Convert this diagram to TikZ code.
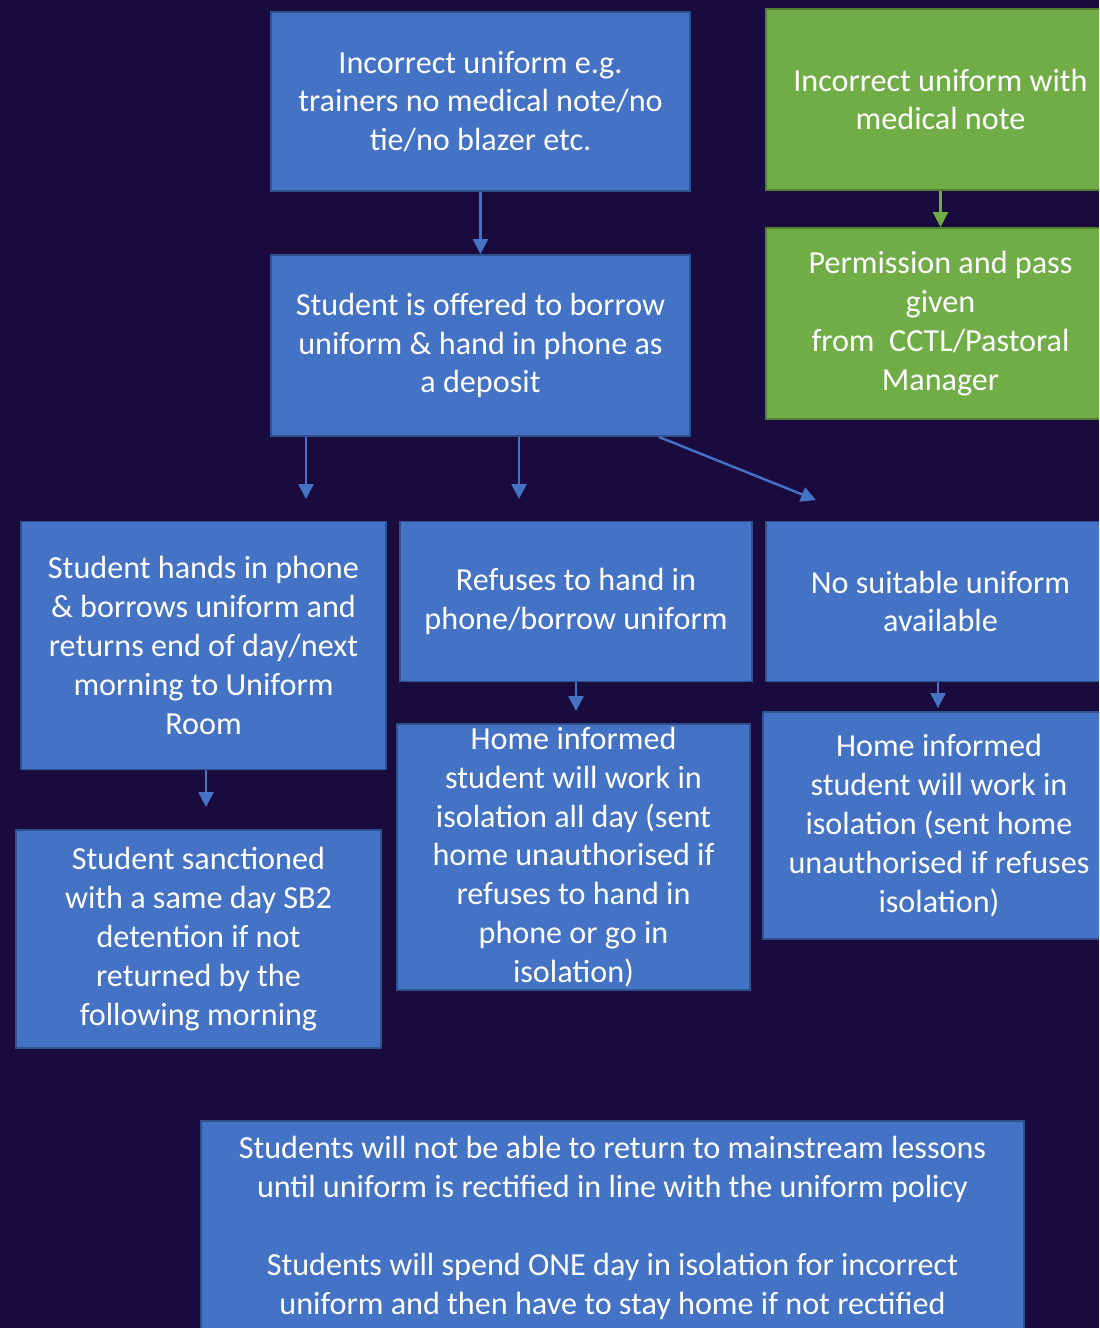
\documentclass[tikz,border=0pt]{standalone}
\usepackage{fontspec}
\setmainfont{Carlito}
\usetikzlibrary{arrows.meta}
\definecolor{bgpurple}{HTML}{1A0B3F}
\definecolor{boxblue}{HTML}{4472C4}
\definecolor{edgeblue}{HTML}{2F528F}
\definecolor{boxgreen}{HTML}{70AD47}
\definecolor{edgegreen}{HTML}{507E32}
\tikzset{
    box/.style={draw=edgeblue, fill=boxblue, line width=1.1pt, text=white, align=center,
        inner sep=0pt, font=\fontsize{18.3}{22.1}\selectfont},
    gbox/.style={box, draw=edgegreen, fill=boxgreen},
    arr/.style={line width=1.4pt, draw=boxblue, -{Triangle[length=8.5pt,width=8.5pt]}},
    garr/.style={arr, draw=boxgreen}
}

\begin{document}
\begin{tikzpicture}[x=0.02cm, y=-0.02cm]
        % 背景
        \useasboundingbox (0,0) rectangle (1099,1328);
        \clip (0,0) rectangle (1099,1328);
        \fill[bgpurple] (0,0) rectangle (1099,1328);

        % 第一层
        \node[box, minimum width=8.38cm, minimum height=3.58cm] (wrong) at (480.5,101.5)
            {Incorrect uniform e.g.\\trainers no medical note/no\\tie/no blazer etc.};
        \node[gbox, minimum width=6.98cm, minimum height=3.62cm] (medical) at (940.5,99.5)
            {Incorrect uniform with\\medical note};
        \node[gbox, minimum width=6.98cm, minimum height=3.82cm] (pass) at (940.5,323.5)
            {Permission and pass\\given\\from\ \ CCTL/Pastoral\\Manager};
        \node[box, minimum width=8.38cm, minimum height=3.62cm] (offer) at (480.5,345.5)
            {Student is offered to borrow\\uniform \& hand in phone as\\a deposit};

        % 第二层
        \node[box, minimum width=7.30cm, minimum height=4.96cm] (borrow) at (203.5,645.5)
            {Student hands in phone\\\& borrows uniform and\\returns end of day/next\\morning to Uniform\\Room};
        \node[box, minimum width=7.04cm, minimum height=3.20cm] (refuse) at (576,601.5)
            {Refuses to hand in\\phone/borrow uniform};
        \node[box, minimum width=6.98cm, minimum height=3.20cm] (none) at (940.5,601.5)
            {No suitable uniform\\available};

        % 第三层
        \node[box, minimum width=7.30cm, minimum height=4.36cm] (sanction) at (198.5,939)
            {Student sanctioned\\with a same day SB2\\detention if not\\returned by the\\following morning};
        \node[box, minimum width=7.06cm, minimum height=5.32cm] (isoday) at (573.5,857)
            {Home informed\\student will work in\\isolation all day (sent\\home unauthorised if\\refuses to hand in\\phone or go in\\isolation)};
        \node[box, minimum width=7.04cm, minimum height=4.54cm] (iso) at (939,825.5)
            {Home informed\\student will work in\\isolation (sent home\\unauthorised if refuses\\isolation)};

        % 底部说明
        \node[box, minimum width=16.46cm, minimum height=4.28cm] (policy) at (612.5,1228)
            {Students will not be able to return to mainstream lessons\\until uniform is rectified in line with the uniform policy\\[22.1pt]
             Students will spend ONE day in isolation for incorrect\\uniform and then have to stay home if not rectified};

        % 箭头
        \coordinate (t1) at (306,499);
        \coordinate (t2) at (519,499);
        \coordinate (t3) at (816,500);
        \draw[arr] (wrong) -- (offer);
        \draw[garr] (medical) -- (pass);
        \draw[arr] (offer.south -| t1) -- (t1);
        \draw[arr] (offer.south -| t2) -- (t2);
        \draw[arr] ([xshift=-0.64cm]offer.south east) -- (t3);
        \draw[arr, shorten >=0.44cm] ([xshift=0.05cm]borrow.south) -- ([xshift=0.05cm]borrow.south |- sanction.north);
        \draw[arr, shorten >=0.24cm] (refuse.south) -- (refuse.south |- isoday.north);
        \draw[arr, shorten >=0.06cm] ([xshift=-0.05cm]none.south) -- ([xshift=-0.05cm]none.south |- iso.north);
    \end{tikzpicture}
\end{document}
